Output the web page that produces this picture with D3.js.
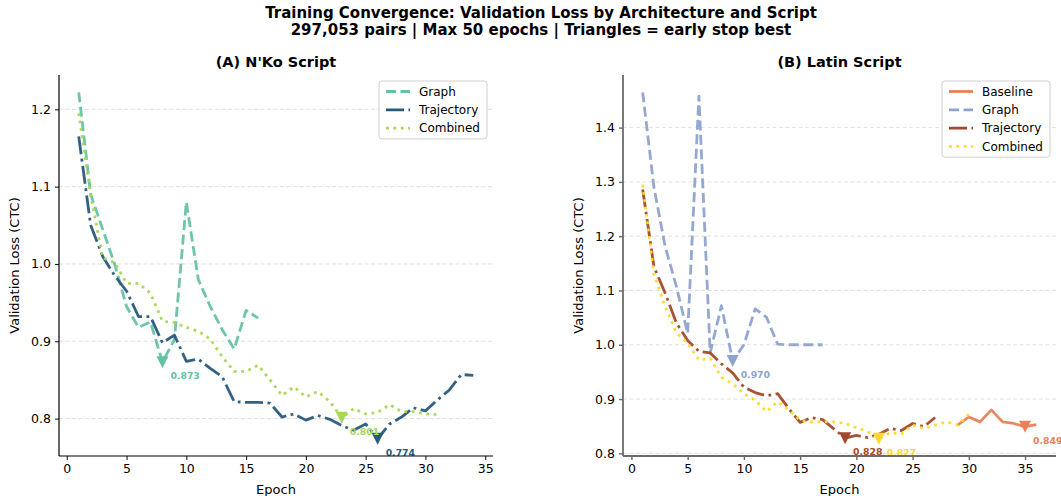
<!DOCTYPE html>
<html>
<head>
<meta charset="utf-8">
<script src="https://cdn.jsdelivr.net/npm/d3@7"></script>
<style>
body { margin: 0; background: #fff; }
svg { font-family: "DejaVu Sans", sans-serif; }
</style>
</head>
<body>
<svg id="chart" width="1061" height="496"></svg>
<script>
// N'Ko script, validation loss per epoch (epochs start at 1)
var nkoGraph = [1.222, 1.090, 1.045, 1.000, 0.945, 0.918, 0.925, 0.873, 0.902, 1.080,
                0.980, 0.945, 0.915, 0.890, 0.940, 0.930];
var nkoTraj = [1.165, 1.050, 1.010, 0.985, 0.965, 0.932, 0.932, 0.898, 0.908, 0.874,
               0.877, 0.865, 0.854, 0.822, 0.821, 0.821, 0.820, 0.802, 0.806, 0.798,
               0.804, 0.799, 0.791, 0.785, 0.793, 0.774, 0.793, 0.802, 0.814, 0.810,
               0.824, 0.837, 0.857, 0.856];
var nkoComb = [1.195, 1.090, 1.008, 1.002, 0.975, 0.975, 0.962, 0.926, 0.924, 0.918,
               0.913, 0.903, 0.880, 0.861, 0.861, 0.869, 0.850, 0.830, 0.841, 0.828,
               0.835, 0.822, 0.801, 0.813, 0.806, 0.808, 0.818, 0.809, 0.809, 0.806,
               0.805];

// Latin script
var latinBaseStart = 29;
var latinBase = [0.852, 0.867, 0.858, 0.880, 0.858, 0.855, 0.849, 0.853];
var latinGraph = [1.465, 1.290, 1.181, 1.107, 1.021, 1.458, 0.985, 1.072, 0.970, 1.000,
                  1.066, 1.051, 1.001, 1.000, 1.000, 1.000, 1.000];
var latinTraj = [1.286, 1.144, 1.095, 1.040, 1.008, 0.988, 0.985, 0.965, 0.948, 0.922,
                 0.912, 0.906, 0.910, 0.882, 0.857, 0.866, 0.862, 0.845, 0.828, 0.833,
                 0.829, 0.835, 0.846, 0.842, 0.855, 0.849, 0.866];
var latinComb = [1.295, 1.130, 1.070, 1.022, 1.003, 0.972, 0.975, 0.940, 0.928, 0.910,
                 0.898, 0.877, 0.895, 0.880, 0.861, 0.858, 0.858, 0.858, 0.855, 0.847,
                 0.840, 0.827, 0.838, 0.836, 0.852, 0.846, 0.852, 0.858, 0.852, 0.872];

var xTicks = [0, 5, 10, 15, 20, 25, 30, 35];
var nkoYTicks = [0.8, 0.9, 1.0, 1.1, 1.2];
var latinYTicks = [0.8, 0.9, 1.0, 1.1, 1.2, 1.3, 1.4];

var DASH = "10,4.5", DASHDOT = "18,4.5,2.8,4.5", DOT = "2.8,4.6";

var panels = [
	{
		title: "(A) N'Ko Script",
		left: 59, right: 493, top: 75, bottom: 456,
		spine: "#000", spineWidth: 1.2,
		yTicks: nkoYTicks,
		series: [
			{ name: "Graph", start: 1, values: nkoGraph, color: "#66c2a5", dash: DASH },
			{ name: "Trajectory", start: 1, values: nkoTraj, color: "#285a7d", dash: DASHDOT },
			{ name: "Combined", start: 1, values: nkoComb, color: "#a6d854", dash: DOT }
		]
	},
	{
		title: "(B) Latin Script",
		left: 623, right: 1056, top: 75, bottom: 456,
		spine: "#6b6b6b", spineWidth: 1.8,
		yTicks: latinYTicks,
		series: [
			{ name: "Baseline", start: latinBaseStart, values: latinBase, color: "#ea7f5b", dash: null },
			{ name: "Graph", start: 1, values: latinGraph, color: "#8fa3cf", dash: DASH },
			{ name: "Trajectory", start: 1, values: latinTraj, color: "#a3492b", dash: DASHDOT },
			{ name: "Combined", start: 1, values: latinComb, color: "#ffd92f", dash: DOT }
		]
	}
];

var svg = d3.select("#chart");

svg.append("text")
   .attr("x", 541).attr("y", 18)
   .attr("text-anchor", "middle")
   .attr("font-size", 15).attr("font-weight", "bold")
   .text("Training Convergence: Validation Loss by Architecture and Script");
svg.append("text")
   .attr("x", 541).attr("y", 35)
   .attr("text-anchor", "middle")
   .attr("font-size", 15).attr("font-weight", "bold")
   .text("297,053 pairs | Max 50 epochs | Triangles = early stop best");

panels.forEach(drawPanel);

// matplotlib-style 5% margins
function padded(lo, hi) {
	var m = (hi - lo) * 0.05;
	return [lo - m, hi + m];
}

function drawPanel(p) {
	p.series.forEach(s => {
		s.data = s.values.map((v, i) => ({ e: s.start + i, v: v }));
	});
	var all = p.series.flatMap(s => s.data);

	var x = d3.scaleLinear()
	          .domain(padded(d3.min(all, d => d.e), d3.max(all, d => d.e)))
	          .range([p.left, p.right]);
	var y = d3.scaleLinear()
	          .domain(padded(d3.min(all, d => d.v), d3.max(all, d => d.v)))
	          .range([p.bottom, p.top]);

	var g = svg.append("g");

	// grid
	g.selectAll("line.grid")
	 .data(p.yTicks)
	 .enter()
	 .append("line")
	 .attr("class", "grid")
	 .attr("x1", p.left).attr("x2", p.right)
	 .attr("y1", d => y(d)).attr("y2", d => y(d))
	 .attr("stroke", "#dcdcdc")
	 .attr("stroke-width", 0.9)
	 .attr("stroke-dasharray", "4,2.5");

	// title
	g.append("text")
	 .attr("x", (p.left + p.right) / 2)
	 .attr("y", 67)
	 .attr("text-anchor", "middle")
	 .attr("font-size", 14.5).attr("font-weight", "bold")
	 .text(p.title);

	// lines
	var line = d3.line().x(d => x(d.e)).y(d => y(d.v));
	p.series.forEach(s => {
		g.append("path")
		 .datum(s.data)
		 .attr("d", line)
		 .attr("fill", "none")
		 .attr("stroke", s.color)
		 .attr("stroke-width", 2.8)
		 .attr("stroke-opacity", 0.95)
		 .attr("stroke-dasharray", s.dash)
		 .attr("stroke-linejoin", "round");
	});

	// early stop best markers
	p.series.forEach(s => {
		var best = s.data[d3.minIndex(s.data, d => d.v)];
		var bx = x(best.e), by = y(best.v);
		g.append("path")
		 .attr("d", "M" + (bx - 6) + "," + (by - 6) + "L" + (bx + 6) + "," + (by - 6) + "L" + bx + "," + (by + 6) + "Z")
		 .attr("fill", s.color);
		g.append("text")
		 .attr("x", bx + 8)
		 .attr("y", by + 17)
		 .attr("font-size", 9.3).attr("font-weight", "bold")
		 .attr("fill", s.color)
		 .text(best.v.toFixed(3));
	});

	// axes
	var xAxis = g.append("g")
	             .attr("transform", "translate(0," + p.bottom + ")")
	             .call(d3.axisBottom(x).tickValues(xTicks).tickSize(4).tickPadding(4).tickFormat(d3.format("d")));
	var yAxis = g.append("g")
	             .attr("transform", "translate(" + p.left + ",0)")
	             .call(d3.axisLeft(y).tickValues(p.yTicks).tickSize(4).tickPadding(4).tickFormat(d3.format(".1f")));
	[xAxis, yAxis].forEach(a => {
		a.select(".domain").remove();
		a.selectAll(".tick line").attr("stroke", p.spine).attr("stroke-width", p.spineWidth * 0.8);
		a.selectAll(".tick text").attr("font-size", 12.5).attr("fill", "#000")
		 .attr("font-family", "DejaVu Sans, sans-serif");
	});
	g.append("line")
	 .attr("x1", p.left).attr("x2", p.right)
	 .attr("y1", p.bottom).attr("y2", p.bottom)
	 .attr("stroke", p.spine).attr("stroke-width", p.spineWidth);
	g.append("line")
	 .attr("x1", p.left).attr("x2", p.left)
	 .attr("y1", p.top).attr("y2", p.bottom)
	 .attr("stroke", p.spine).attr("stroke-width", p.spineWidth);

	// axis labels
	g.append("text")
	 .attr("x", (p.left + p.right) / 2)
	 .attr("y", 494)
	 .attr("text-anchor", "middle")
	 .attr("font-size", 13)
	 .text("Epoch");
	g.append("text")
	 .attr("transform", "translate(" + (p.left - 40) + "," + ((p.top + p.bottom) / 2) + ") rotate(-90)")
	 .attr("text-anchor", "middle")
	 .attr("font-size", 13)
	 .text("Validation Loss (CTC)");

	// legend
	var rowH = 18.3, boxW = 108;
	var boxH = p.series.length * rowH + 3;
	var lx = p.right - 6 - boxW, ly = p.top + 6;
	var leg = g.append("g");
	leg.append("rect")
	   .attr("x", lx).attr("y", ly)
	   .attr("width", boxW).attr("height", boxH)
	   .attr("rx", 3)
	   .attr("fill", "#fff").attr("fill-opacity", 0.85)
	   .attr("stroke", "#d0d0d0");
	var rows = leg.selectAll("g.row")
	              .data(p.series)
	              .enter()
	              .append("g")
	              .attr("transform", (d, i) => "translate(0," + (ly + 10.5 + i * rowH) + ")");
	rows.append("line")
	    .attr("x1", lx + 7).attr("x2", lx + 31)
	    .attr("stroke", d => d.color)
	    .attr("stroke-width", 2.8)
	    .attr("stroke-dasharray", d => d.dash);
	rows.append("text")
	    .attr("x", lx + 40)
	    .attr("dy", "0.35em")
	    .attr("font-size", 12)
	    .text(d => d.name);
}
</script>
</body>
</html>
